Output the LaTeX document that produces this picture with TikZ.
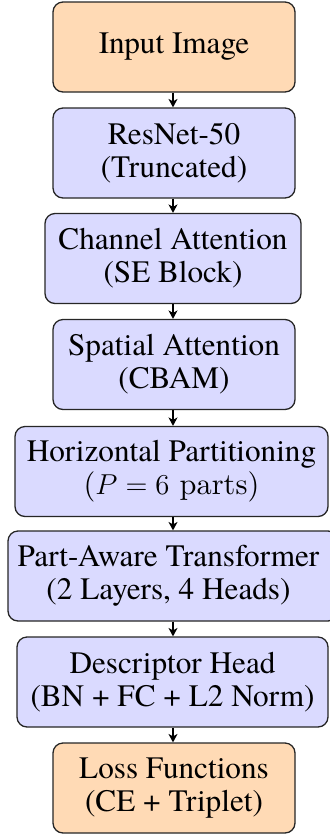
\documentclass[tikz,border=0pt]{standalone}
\usepackage{fontspec}
\setmainfont{texgyretermes}[Extension=.otf, UprightFont=*-regular, BoldFont=*-bold,
  ItalicFont=*-italic, BoldItalicFont=*-bolditalic]
\newfontfamily\cmfont{lmroman10-regular.otf}
\usetikzlibrary{arrows.meta}
\definecolor{endfill}{RGB}{255,218,181}
\definecolor{stagefill}{RGB}{218,218,255}
\begin{document}
\begin{tikzpicture}[x=0.5pt,y=-0.5pt,
  stage/.style={draw=black!85, line width=0.65pt, rounded corners=5pt,
    minimum height=45pt, minimum width=121pt, fill=stagefill,
    align=center, inner sep=0pt, font=\rmfamily\fontsize{15.6}{16.5}\selectfont},
  endpoint/.style={stage, fill=endfill},
  caption/.style={align=center, inner sep=0pt, font=\rmfamily\fontsize{15.6}{16.5}\selectfont},
  flow/.style={draw=black, line width=0.6pt, -{Stealth[length=4.2pt, width=4.5pt, inset=1.2pt]}}]
\useasboundingbox (0,0) rectangle (329,837);

\node[endpoint] (input) at (174,47) {Input Image};
\node[stage] (resnet) at (174,153) {ResNet-50\\(Truncated)};
\node[stage, minimum width=128pt] (channel) at (173,258.5) {Channel Attention\\(SE Block)};
\node[stage] (spatial) at (174,364.5) {Spatial Attention\\(CBAM)};
\node[stage, minimum width=156.5pt] (parts) at (171.5,471.5)
  {Horizontal Partitioning\\{\cmfont\fontsize{15.2}{16.5}\selectfont($P=6$ parts)}};
\node[stage, minimum width=165pt] (transformer) at (173,576) {};
\node[caption] (transformertext) at (168.5,576) {Part-Aware Transformer\\(2 Layers, 4 Heads)};
\node[stage, minimum width=155.5pt] (head) at (172.5,682) {Descriptor Head\\(BN + FC + L2 Norm)};
\node[endpoint] (loss) at (174,788) {Loss Functions\\(CE + Triplet)};

\foreach \a/\b in {input/resnet, resnet/channel, channel/spatial, spatial/parts,
                   parts/transformer, transformer/head, head/loss}
  \draw[flow] (\a.south -| 173,0) -- (\b.north -| 173,0);
\end{tikzpicture}
\end{document}
